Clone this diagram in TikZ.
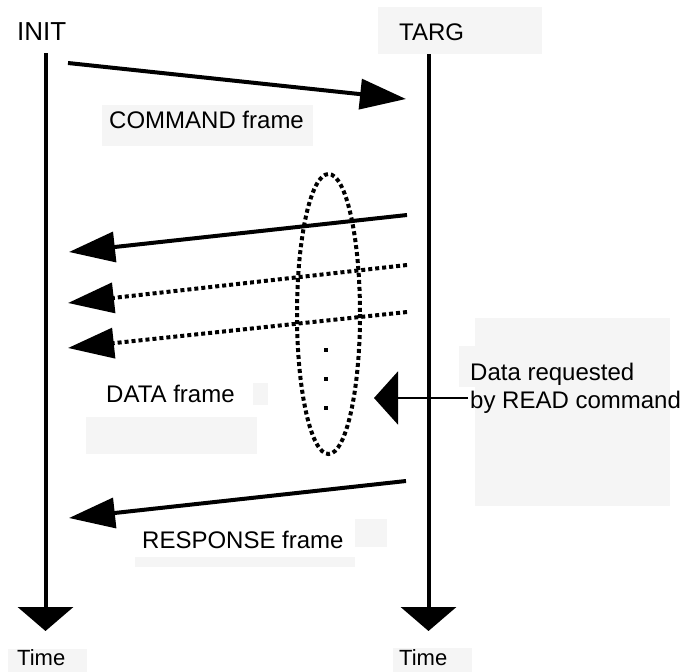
\documentclass[tikz,border=0pt]{standalone}
\usepackage{fontspec}
\setmainfont{Liberation Sans}
\usetikzlibrary{arrows.meta}
\definecolor{ghost}{RGB}{245,245,245}

\tikzset{
  lifeline/.style={line width=4pt,-{Triangle[length=24pt,width=55pt]}},
  msg/.style={line width=4pt,-{Triangle[length=46pt,width=30pt]}},
  msgdots/.style={msg,line width=4pt,dash pattern=on 4pt off 3pt},
  lead/.style={line width=2pt,-{Triangle[length=24pt,width=53pt]}},
  lbl/.style={anchor=base west,inner sep=0pt,font=\fontsize{24}{28}\selectfont},
  vdot/.style={fill=black,inner sep=0pt,minimum size=4pt},
}

\begin{document}
\begin{tikzpicture}[x=1pt,y=1pt,yscale=-1]
\useasboundingbox (0,0) rectangle (691,672);

% pale boxes
\fill[ghost] (378,7) rectangle (542,54);
\fill[ghost] (102,105) rectangle (313,146);
\fill[ghost] (253,383) rectangle (268,405);
\fill[ghost] (86,417) rectangle (257,454);
\fill[ghost] (459,346) rectangle (477,387);
\fill[ghost] (475,318) rectangle (670,506);
\fill[ghost] (355,519) rectangle (387,547);
\fill[ghost] (135,557) rectangle (355,567);
\fill[ghost] (8,649) rectangle (87,672);
\fill[ghost] (393,648) rectangle (472,672);

% Text Node
\node[lbl,font=\fontsize{26}{30}\selectfont] (init) at (17,40) {INIT};
\node[lbl] (targ) at (399,40) {TARG};

% lifelines
\coordinate (inittop) at (45.5,53);
\coordinate (initbot) at (45.5,631);
\coordinate (targtop) at (428.5,54);
\coordinate (targbot) at (428.5,631);
\draw[lifeline] (inittop) -- (initbot);
\draw[lifeline] (targtop) -- (targbot);

% command
\coordinate (cmdfrom) at (68,63);
\coordinate (cmdto) at (406,99);
\draw[msg] (cmdfrom) -- (cmdto);
\node[lbl] (cmd) at (109,128) {COMMAND frame};

% data frames
\coordinate (dataafrom) at (407,215);
\coordinate (dataato) at (69,252);
\coordinate (databfrom) at (407,265);
\coordinate (databto) at (68,303);
\coordinate (datacfrom) at (407,312);
\coordinate (datacto) at (68,348);
\draw[msg] (dataafrom) -- (dataato);
\draw[msgdots] (databfrom) -- (databto);
\draw[msgdots] (datacfrom) -- (datacto);
\node[lbl] (data) at (106,402) {DATA frame};

%Shape: Ellipse
\draw[line width=4pt,dash pattern=on 4pt off 3pt] (328.5,314) ellipse [x radius=31.5,y radius=140];
\node[vdot] (dota) at (326,350) {};
\node[vdot] (dotb) at (326,379) {};
\node[vdot] (dotc) at (326,408) {};

% annotation
\node[lbl,align=left] (read) at (470,408) {Data requested\\by READ command};
\coordinate (readfrom) at (468,398);
\coordinate (readto) at (374,398);
\draw[lead] (readfrom) -- (readto);

% response
\coordinate (respfrom) at (406,481);
\coordinate (respto) at (69,518);
\draw[msg] (respfrom) -- (respto);
\node[lbl] (resp) at (142,548) {RESPONSE frame};

% Text Node
\node[lbl,font=\fontsize{22}{26}\selectfont] (timea) at (17,665) {Time};
\node[lbl,font=\fontsize{22}{26}\selectfont] (timeb) at (399,665) {Time};

\end{tikzpicture}
\end{document}
